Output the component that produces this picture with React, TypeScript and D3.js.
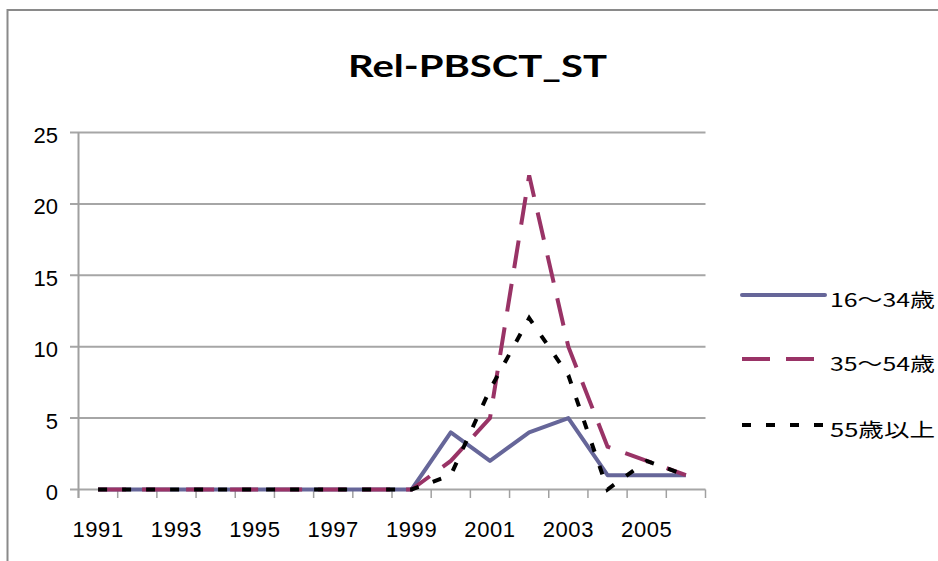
import React from "react";
import * as d3 from "d3";

const years = ["1991","1992","1993","1994","1995","1996","1997","1998","1999","2000","2001","2002","2003","2004","2005","2006"];
const tickLabels = ["1991","1993","1995","1997","1999","2001","2003","2005"];
const yTicks = [0, 5, 10, 15, 20, 25];
const seriesNames = ["16〜34歳", "35〜54歳", "55歳以上"];
const s1 = [0,0,0,0,0,0,0,0,0,4,2,4,5,1,1,1];
const s2 = [0,0,0,0,0,0,0,0,0,2,5,22,10,3,2,1];
const s3 = [0,0,0,0,0,0,0,0,0,1,7,12,8,0,2,1];
const title = "Rel-PBSCT_ST";

const colors = ["#666699", "#993366", "#000000"];
const dashes = [undefined, "28 16", "9 15"];
const legendLen = [83, 74, 83];

export default function App() {
  const x = d3.scaleBand<string>().domain(years).range([78.5, 705.5]).padding(0);
  const y = d3.scaleLinear().domain([0, 25]).range([489.5, 132.5]);
  const cx = (yr: string) => (x(yr) as number) + x.bandwidth() / 2;
  const data = [s1, s2, s3];
  const line = d3.line<number>().x((_, i) => cx(years[i])).y((d) => y(d));
  const boundaries = years.map((yr) => x(yr) as number).concat([705.5]);
  const legendY = [295, 359, 425];

  return (
    <svg width={938} height={561} style={{ position: "absolute", left: 0, top: 0, background: "#fff" }}>
      <rect x={0} y={0} width={938} height={561} fill="#fff" />
      {/* chart border */}
      <line x1={7.5} y1={10} x2={938} y2={10} stroke="#8a8a8a" strokeWidth={2} />
      <line x1={7.5} y1={9} x2={7.5} y2={561} stroke="#8a8a8a" strokeWidth={2} />

      <text x={477.5} y={77} textAnchor="middle" fontFamily="Lato, 'Open Sans', sans-serif" fontWeight={700} fontSize={30} textLength={259} lengthAdjust="spacingAndGlyphs" fill="#000">{title}</text>

      {/* gridlines */}
      {yTicks.map((t) => (
        <line key={"g" + t} x1={70} x2={705.5} y1={y(t)} y2={y(t)} stroke="#a6a6a6" strokeWidth={2} />
      ))}
      {/* y axis */}
      <line x1={78.5} x2={78.5} y1={132.5} y2={498} stroke="#a0a0a0" strokeWidth={2} />
      {/* x ticks */}
      {boundaries.map((b, i) => (
        <line key={"t" + i} x1={b} x2={b} y1={489.5} y2={498} stroke="#a0a0a0" strokeWidth={1.5} />
      ))}
      {/* y labels */}
      {yTicks.map((t) => (
        <text key={"yl" + t} x={58} y={y(t) + 10.5} textAnchor="end" fontFamily="'Liberation Sans', Arial, sans-serif" fontSize={22} fill="#000">{t}</text>
      ))}
      {/* x labels */}
      {tickLabels.map((l) => (
        <text key={"xl" + l} x={cx(l)} y={537} textAnchor="middle" fontFamily="'Liberation Sans', Arial, sans-serif" fontSize={22} letterSpacing={0.6} fill="#000">{l}</text>
      ))}

      {/* series */}
      {data.map((d, i) => (
        <path key={"s" + i} d={line(d) as string} fill="none" stroke={colors[i]} strokeWidth={4} strokeDasharray={dashes[i]} strokeLinejoin={i === 0 ? "round" : "miter"} />
      ))}

      {/* legend */}
      {seriesNames.map((n, i) => (
        <g key={"lg" + i}>
          <line x1={742} x2={742 + legendLen[i]} y1={legendY[i]} y2={legendY[i]} stroke={colors[i]} strokeWidth={4} strokeDasharray={dashes[i]} strokeLinecap={i === 0 ? "round" : "butt"} />
          <text x={830} y={legendY[i] + 11.5} fontFamily="'Noto Sans CJK JP', sans-serif" fontSize={19} textLength={105} lengthAdjust="spacingAndGlyphs" fill="#000">{n}</text>
        </g>
      ))}
    </svg>
  );
}
